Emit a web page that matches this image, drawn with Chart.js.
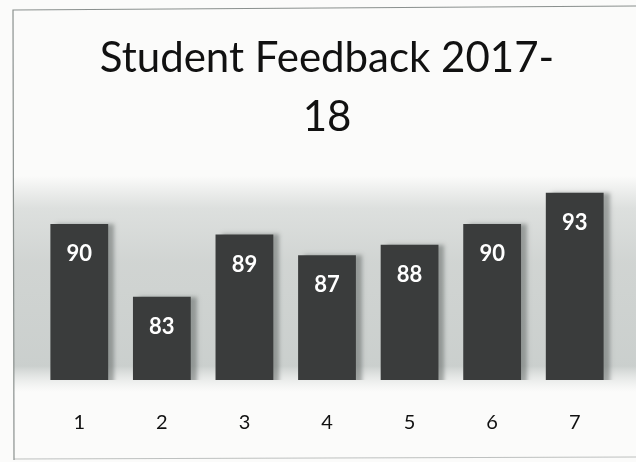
<!DOCTYPE html>
<html>
<head>
<meta charset="utf-8">
<script src="https://cdn.jsdelivr.net/npm/chart.js@4.4.1/dist/chart.umd.min.js"></script>
<style>
html,body{margin:0;padding:0;background:#fbfbfa;}
#wrap{width:636px;height:462px;position:relative;}
</style>
</head>
<body>
<div id="wrap"><canvas id="c" width="636" height="462"></canvas></div>
<script>
const categories = ["1", "2", "3", "4", "5", "6", "7"];
const feedbackValues = [90, 83, 89, 87, 88, 90, 93];
const titleLines = ["Student Feedback 2017-", "18"];

const backdrop = {
  id: 'backdrop',
  beforeDraw(chart) {
    const ctx = chart.ctx;
    const a = chart.chartArea;
    ctx.save();
    ctx.fillStyle = '#fbfbfa';
    ctx.fillRect(0, 0, chart.width, chart.height);
    // gray band behind bars
    const top = a.top + 4;
    const bot = a.bottom + 12;
    const g = ctx.createLinearGradient(0, top, 0, bot);
    g.addColorStop(0, 'rgba(205,209,207,0)');
    g.addColorStop(0.15, 'rgba(208,212,210,0.7)');
    g.addColorStop(0.4, 'rgba(204,208,206,0.9)');
    g.addColorStop(0.88, 'rgba(200,205,203,0.95)');
    g.addColorStop(1, 'rgba(225,228,227,0)');
    ctx.fillStyle = g;
    ctx.fillRect(14, top, chart.width - 14, bot - top);
    // slide border
    ctx.strokeStyle = 'rgba(110,118,115,0.8)';
    ctx.lineWidth = 1.2;
    ctx.beginPath();
    ctx.moveTo(14, 460);
    ctx.lineTo(13, 10);
    ctx.lineTo(636, 6);
    ctx.stroke();
    ctx.strokeStyle = 'rgba(150,155,153,0.6)';
    ctx.beginPath();
    ctx.moveTo(14, 459);
    ctx.lineTo(636, 457);
    ctx.stroke();
    ctx.restore();
  }
};

const barShadow = {
  id: 'barShadow',
  beforeDatasetsDraw(chart) {
    const ctx = chart.ctx;
    ctx.save();
    ctx.shadowColor = 'rgba(90,95,93,0.5)';
    ctx.shadowOffsetX = 6;
    ctx.shadowOffsetY = 0;
    ctx.shadowBlur = 4;
  },
  afterDatasetsDraw(chart) {
    const ctx = chart.ctx;
    ctx.restore();
    const meta = chart.getDatasetMeta(0);
    ctx.save();
    ctx.fillStyle = '#ffffff';
    ctx.font = 'bold 22px Lato, "Open Sans", sans-serif';
    ctx.textAlign = 'center';
    ctx.textBaseline = 'middle';
    meta.data.forEach((bar, i) => {
      ctx.fillText(String(chart.data.datasets[0].data[i]), bar.x, bar.y + 30);
    });
    ctx.restore();
  }
};

new Chart(document.getElementById('c'), {
  type: 'bar',
  data: {
    labels: categories,
    datasets: [{
      data: feedbackValues,
      backgroundColor: '#3a3c3c',
      borderWidth: 0,
      categoryPercentage: 1,
      barPercentage: 0.7
    }]
  },
  options: {
    responsive: false,
    animation: false,
    devicePixelRatio: 1,
    layout: { padding: { left: 38, right: 20, top: 0, bottom: 29 } },
    plugins: {
      legend: { display: false },
      tooltip: { enabled: false },
      title: {
        display: true,
        text: titleLines,
        color: '#111111',
        font: { family: 'Lato, "Open Sans", sans-serif', size: 42, weight: 'normal', lineHeight: 1.405 },
        padding: { top: 29, bottom: 25 }
      }
    },
    scales: {
      x: {
        grid: { display: false, drawTicks: false },
        border: { display: false },
        ticks: { color: '#111111', font: { family: 'Lato, "Open Sans", sans-serif', size: 20 }, padding: 31 },
        afterFit(scale) { scale.height = 53; }
      },
      y: {
        display: false,
        min: 75,
        max: 95
      }
    }
  },
  plugins: [backdrop, barShadow]
});
</script>
</body>
</html>
